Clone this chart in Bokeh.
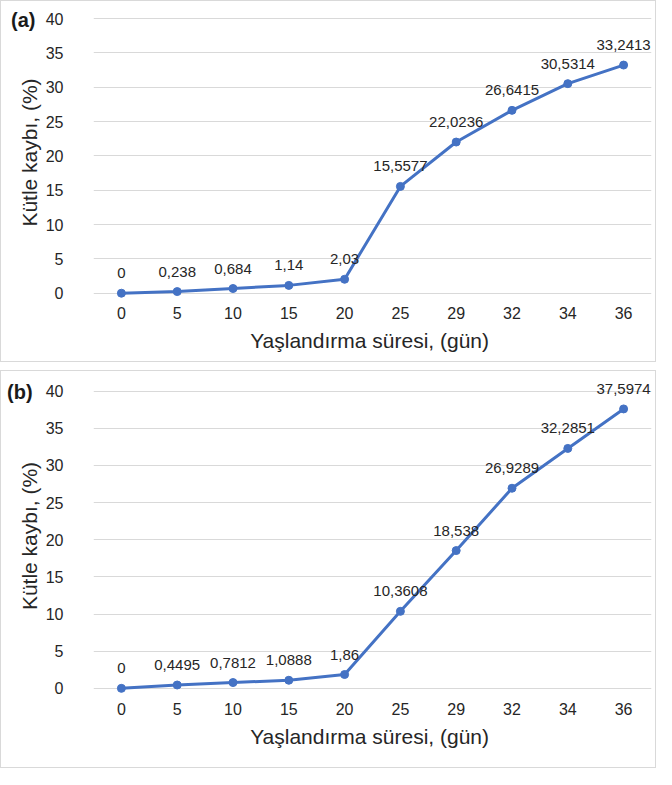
from bokeh.plotting import figure
from bokeh.models import ColumnDataSource, Range1d, FactorRange, FixedTicker, Div
from bokeh.layouts import column
from bokeh.embed import file_html
from bokeh.resources import INLINE
from bokeh.core.properties import value

days = ["0", "5", "10", "15", "20", "25", "29", "32", "34", "36"]
loss_a = [0, 0.238, 0.684, 1.14, 2.03, 15.5577, 22.0236, 26.6415, 30.5314, 33.2413]
loss_b = [0, 0.4495, 0.7812, 1.0888, 1.86, 10.3608, 18.538, 26.9289, 32.2851, 37.5974]
y_ticks = [0, 5, 10, 15, 20, 25, 30, 35, 40]
x_title = "Yaşlandırma  süresi, (gün)"
y_title = "Kütle kaybı, (%)"

FONT = "Liberation Sans"
BLUE = "#4472C4"
TXT = "#262626"


def make_panel(vals, height, top, bottom):
    src = ColumnDataSource(dict(
        days=days, loss=vals,
        label=[str(v).replace(".", ",") for v in vals],
    ))
    p = figure(
        x_range=FactorRange(factors=days, range_padding=0),
        y_range=Range1d(-1.5, 42.5),
        width=656, height=height,
        output_backend="svg", toolbar_location=None,
        min_border_left=92, min_border_right=6,
        min_border_top=top, min_border_bottom=bottom,
        styles={"border": "1px solid #d9d9d9", "box-sizing": "border-box"},
    )
    p.outline_line_color = None
    p.xgrid.grid_line_color = None
    p.ygrid.grid_line_color = "#d9d9d9"
    p.ygrid.grid_line_width = 1.2
    p.yaxis.ticker = FixedTicker(ticks=y_ticks)
    for ax in (p.xaxis[0], p.yaxis[0]):
        ax.axis_line_color = None
        ax.major_tick_line_color = None
        ax.minor_tick_line_color = None
        ax.major_tick_out = 0
        ax.major_tick_in = 0
        ax.major_label_text_font = FONT
        ax.major_label_text_font_size = "16px"
        ax.major_label_text_color = TXT
        ax.axis_label_text_font = FONT
        ax.axis_label_text_font_size = "21px"
        ax.axis_label_text_font_style = "normal"
        ax.axis_label_text_color = TXT
    p.xaxis.major_label_standoff = 3
    p.xaxis.axis_label = x_title
    p.xaxis.axis_label_standoff = 7
    p.yaxis.major_label_standoff = 30
    p.yaxis.axis_label = y_title
    p.yaxis.axis_label_standoff = 2

    p.line("days", "loss", source=src, line_color=BLUE, line_width=3)
    p.scatter("days", "loss", source=src, size=8, fill_color=BLUE, line_color=BLUE)
    p.text("days", "loss", text="label", source=src, text_align="center",
           text_baseline="middle", y_offset=-20, text_font=value(FONT),
           text_font_size="15px", text_color=TXT)
    return p


def tag_div(tag, left, top):
    return Div(text=tag, styles={
        "position": "absolute", "left": f"{left}px", "top": f"{top}px",
        "font-family": FONT, "font-size": "20px", "font-weight": "bold",
        "color": "#1a1a1a", "line-height": "22px", "z-index": "10",
    })


pa = make_panel(loss_a, 362, 0, 60)
pb = make_panel(loss_b, 398, 1, 70)

layout = column(pa, pb, tag_div("(a)", 6, 4), tag_div("(b)", 2, 376), spacing=8)
open("out.html", "w").write(file_html(layout, INLINE))
